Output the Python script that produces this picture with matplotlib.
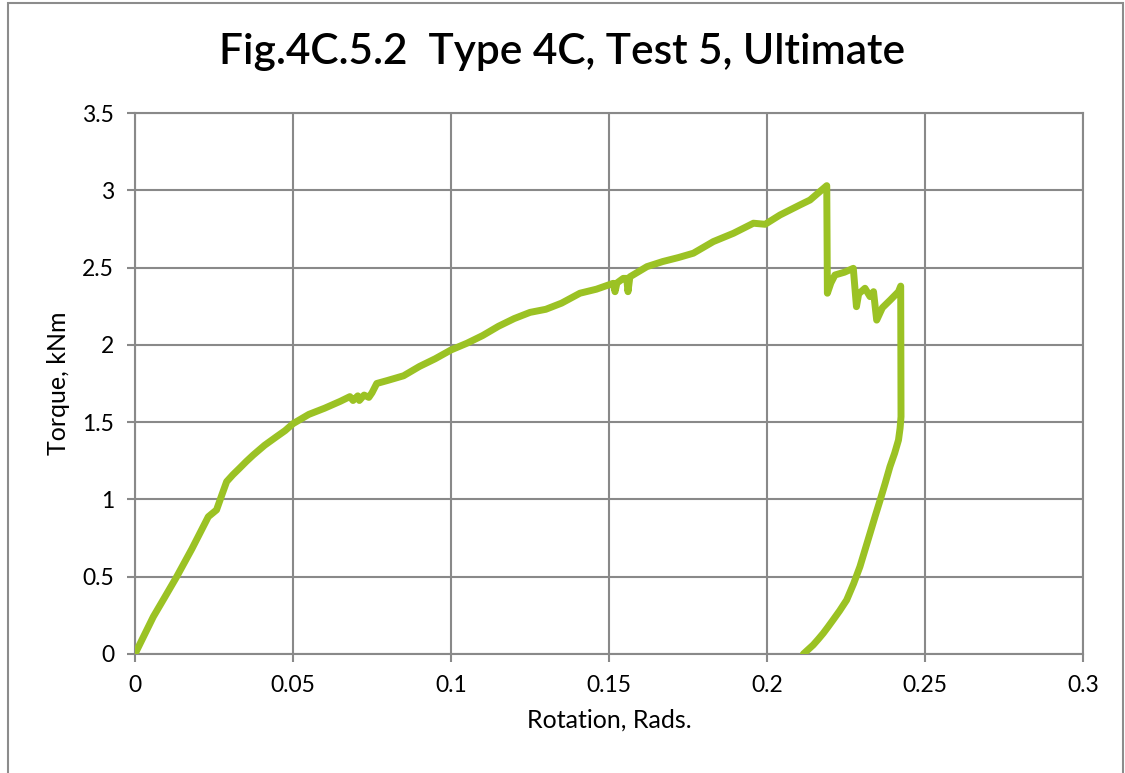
import matplotlib.pyplot as plt
from matplotlib.patches import Rectangle

# Test record (rotation in rads, torque in kNm)
rotation = [
    0.0, 0.0058, 0.0095, 0.0132, 0.018, 0.0232, 0.0258, 0.0275, 0.029, 0.031,
    0.033, 0.0352, 0.0374, 0.041, 0.0448, 0.0475, 0.050, 0.055, 0.060, 0.065,
    0.068, 0.069, 0.0705, 0.071, 0.0725, 0.074, 0.075, 0.0765, 0.080, 0.085,
    0.090, 0.095, 0.100, 0.105, 0.110, 0.115, 0.120, 0.125, 0.130, 0.135,
    0.1408, 0.146, 0.1513, 0.1519, 0.1525, 0.1545, 0.1556, 0.1560, 0.1566, 0.162,
    0.167, 0.172, 0.1767, 0.183, 0.1894, 0.1957, 0.1994, 0.2041, 0.2104, 0.2136,
    0.2189, 0.2191, 0.2202, 0.2215, 0.2245, 0.2273, 0.2283, 0.2290, 0.2310, 0.2326,
    0.2337, 0.2347, 0.2365, 0.2390, 0.2416, 0.2423, 0.2424, 0.2421, 0.2416, 0.2404,
    0.2389, 0.2374, 0.2358, 0.2342, 0.2326, 0.2310, 0.2294, 0.2274, 0.2252, 0.2230,
    0.2209, 0.2193, 0.2178, 0.2162, 0.2146, 0.2115,
]
torque = [
    0.0, 0.241, 0.37, 0.500, 0.68, 0.888, 0.932, 1.03, 1.115, 1.16,
    1.20, 1.245, 1.287, 1.35, 1.406, 1.445, 1.49, 1.55, 1.59, 1.635,
    1.665, 1.64, 1.67, 1.64, 1.675, 1.66, 1.69, 1.75, 1.77, 1.80,
    1.86, 1.91, 1.967, 2.01, 2.06, 2.12, 2.17, 2.21, 2.23, 2.27,
    2.334, 2.36, 2.398, 2.344, 2.40, 2.43, 2.43, 2.344, 2.44, 2.506,
    2.539, 2.565, 2.593, 2.668, 2.722, 2.787, 2.78, 2.84, 2.905, 2.937,
    3.03, 2.334, 2.40, 2.452, 2.47, 2.495, 2.247, 2.33, 2.366, 2.312,
    2.344, 2.16, 2.24, 2.29, 2.344, 2.38, 1.535, 1.46, 1.384, 1.30,
    1.212, 1.105, 0.996, 0.89, 0.781, 0.673, 0.565, 0.455, 0.349, 0.28,
    0.22, 0.175, 0.134, 0.095, 0.058, 0.0,
]

x_ticks = [0, 0.05, 0.1, 0.15, 0.2, 0.25, 0.3]
x_labels = ['0', '0.05', '0.1', '0.15', '0.2', '0.25', '0.3']
y_ticks = [0, 0.5, 1, 1.5, 2, 2.5, 3, 3.5]
y_labels = ['0', '0.5', '1', '1.5', '2', '2.5', '3', '3.5']

plt.rcParams['font.family'] = ['Lato', 'DejaVu Sans']
grid_c = '#898989'

fig = plt.figure(figsize=(11.25, 7.73), dpi=100, facecolor='white')
ax = fig.add_axes([0.12, 0.154, 0.8427, 0.6998])

# outer chart border
fig.patches.append(Rectangle((0.007, -0.01), 0.991, 1.006, transform=fig.transFigure,
                             fill=False, ec='#8c8c8c', lw=1.5))

ax.plot(rotation, torque, color='#9bc224', lw=5, solid_joinstyle='round',
        solid_capstyle='round', zorder=3)

ax.set_xlim(0, 0.3)
ax.set_ylim(0, 3.5)
ax.set_xticks(x_ticks)
ax.set_xticklabels(x_labels)
ax.set_yticks(y_ticks)
ax.set_yticklabels(y_labels)
ax.grid(True, color=grid_c, lw=1.5)
ax.set_axisbelow(True)
for s in ax.spines.values():
    s.set_color(grid_c)
    s.set_linewidth(1.5)
ax.tick_params(length=6, width=1.5, color=grid_c, labelsize=16.5, pad=9)

ax.set_xlabel('Rotation, Rads.', fontsize=18, labelpad=9)
ax.set_ylabel('Torque, kNm', fontsize=18, labelpad=9)
fig.text(0.5, 0.933, 'Fig.4C.5.2  Type 4C, Test 5, Ultimate', ha='center', va='center',
         fontsize=30.5, fontweight='semibold')

fig.savefig('out.png', dpi=100)
